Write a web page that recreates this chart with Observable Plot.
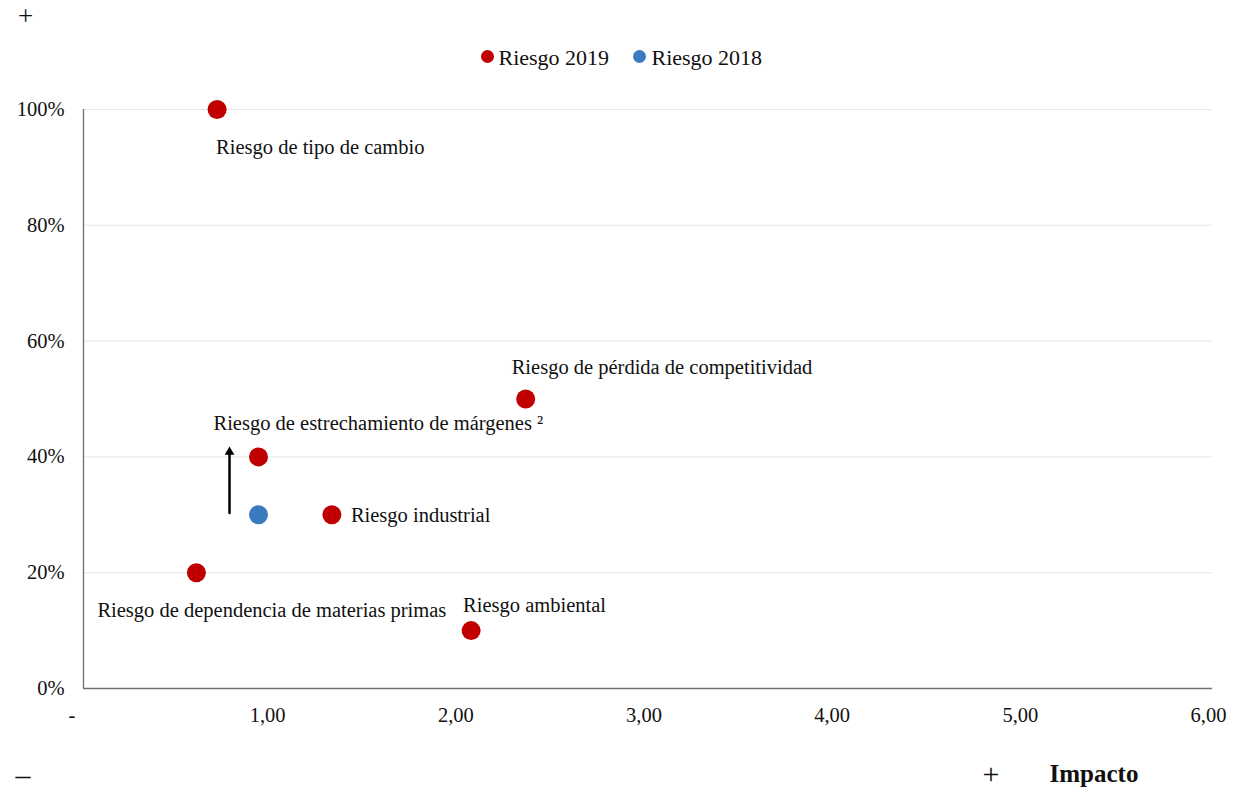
<!DOCTYPE html>
<html>
<head>
<meta charset="utf-8">
<script src="https://cdn.jsdelivr.net/npm/d3@7"></script>
<script src="https://cdn.jsdelivr.net/npm/@observablehq/plot@0.6"></script>
<style>
  html, body { margin: 0; padding: 0; background: #fff; }
  #chart svg { display: block; }
</style>
</head>
<body>
<div id="chart"></div>
<script>
// ---- data ----
const riskNames = [
  "Riesgo de tipo de cambio",
  "Riesgo de pérdida de competitividad",
  "Riesgo de estrechamiento de márgenes ²",
  "Riesgo industrial",
  "Riesgo de dependencia de materias primas",
  "Riesgo ambiental"
];
const impact2019 = [0.71, 2.35, 0.93, 1.32, 0.60, 2.06];
const prob2019   = [1.00, 0.50, 0.40, 0.30, 0.20, 0.10];

const names2018  = ["Riesgo de estrechamiento de márgenes ²"];
const impact2018 = [0.93];
const prob2018   = [0.30];

const seriesNames = ["Riesgo 2019", "Riesgo 2018"];
const seriesColors = ["#C00000", "#3A7BBF"];

const xTicks = [0, 1, 2, 3, 4, 5, 6];
const yTicks = [0, 0.2, 0.4, 0.6, 0.8, 1.0];

// arrow (2018 -> 2019 change for estrechamiento de márgenes)
const arrowX = [0.776];
const arrowFrom = [0.303];
const arrowTo = [0.417];

// ---- tables ----
const pts2019 = riskNames.map((n, i) => ({name: n, x: impact2019[i], y: prob2019[i], series: seriesNames[0]}));
const pts2018 = names2018.map((n, i) => ({name: n, x: impact2018[i], y: prob2018[i], series: seriesNames[1]}));
const points = [...pts2018, ...pts2019];
const arrows = arrowX.map((x, i) => ({x, y1: arrowFrom[i], y2: arrowTo[i]}));

// label offsets (style)
const labelOffsets = [
  {dx: -1, dy: 38},
  {dx: -14, dy: -32},
  {dx: -45, dy: -33},
  {dx: 19, dy: 1},
  {dx: -99, dy: 38},
  {dx: -8, dy: -25}
];

const font = "'Liberation Serif', 'Times New Roman', serif";

const labelMarks = pts2019.map((d, i) => Plot.text([d], {
  x: "x", y: "y", text: "name", textAnchor: "start", lineAnchor: "middle",
  dx: labelOffsets[i].dx, dy: labelOffsets[i].dy,
  fontSize: 20.5, fill: "#111"
}));

const fmtX = d => d === 0 ? "-\u00a0\u00a0\u00a0" : d.toFixed(2).replace(".", ",");

const chart = Plot.plot({
  width: 1243,
  height: 792,
  marginLeft: 83,
  marginRight: 31,
  marginTop: 109,
  marginBottom: 104,
  style: {fontFamily: font, fontSize: "20.5px", color: "#111", background: "#fff"},
  x: {domain: [0, 6], ticks: xTicks, tickFormat: fmtX},
  y: {domain: [0, 1], ticks: yTicks, tickFormat: d => Math.round(d * 100) + "%"},
  color: {domain: seriesNames, range: seriesColors},
  marks: [
    Plot.gridY(yTicks.filter(t => t > 0), {stroke: "#e6e6e6", strokeOpacity: 1, strokeWidth: 1}),
    Plot.axisX({ticks: xTicks, tickFormat: fmtX, tickSize: 0, tickPadding: 19, label: null, fontSize: 20.5, dx: -4}),
    Plot.axisY({ticks: yTicks, tickSize: 0, tickPadding: 19, label: null, fontSize: 20.5,
                tickFormat: d => Math.round(d * 100) + "%"}),
    Plot.ruleX([0], {y1: 0, y2: 1, stroke: "#707070", strokeWidth: 1.3}),
    Plot.ruleY([0], {x1: 0, x2: 6, stroke: "#707070", strokeWidth: 1.3}),
    // arrow: shaft + filled head
    Plot.arrow(arrows, {x1: "x", x2: "x", y1: "y1", y2: "y2", stroke: "#000", strokeWidth: 2.5, headLength: 0, insetEnd: 6}),
    Plot.dot(arrows, {x: "x", y: "y2", symbol: "triangle", r: 3.6, fill: "#000", stroke: null, dy: 5}),
    Plot.dot(points, {x: "x", y: "y", fill: "series", r: 9.5, stroke: null}),
    ...labelMarks,
    // legend
    Plot.dot([seriesNames[0]], {frameAnchor: "top-left", dx: 404, dy: -53, r: 6.5, fill: d => d}),
    Plot.text([seriesNames[0]], {frameAnchor: "top-left", lineAnchor: "middle", dx: 415, dy: -52, text: d => d, textAnchor: "start", fontSize: 22, fill: "#111"}),
    Plot.dot([seriesNames[1]], {frameAnchor: "top-left", dx: 556, dy: -53, r: 6.5, fill: d => d}),
    Plot.text([seriesNames[1]], {frameAnchor: "top-left", lineAnchor: "middle", dx: 568, dy: -52, text: d => d, textAnchor: "start", fontSize: 22, fill: "#111"}),
    // corner markers
    Plot.text(["+"], {frameAnchor: "top-left", lineAnchor: "middle", dx: -65.5, dy: -93, text: d => d, fontSize: 27, fill: "#111"}),
    Plot.text(["–"], {frameAnchor: "bottom-left", lineAnchor: "middle", dx: -68, dy: 87, text: d => d, fontSize: 30, fill: "#111"}),
    Plot.text(["+"], {frameAnchor: "bottom-right", lineAnchor: "middle", dx: -213, dy: 86, text: d => d, fontSize: 30, fill: "#111"}),
    Plot.text(["Impacto"], {frameAnchor: "bottom-right", lineAnchor: "middle", dx: -163, dy: 85, text: d => d, textAnchor: "start", fontSize: 25, fontWeight: "bold", fill: "#111"})
  ]
});
document.getElementById("chart").appendChild(chart);
</script>
</body>
</html>
